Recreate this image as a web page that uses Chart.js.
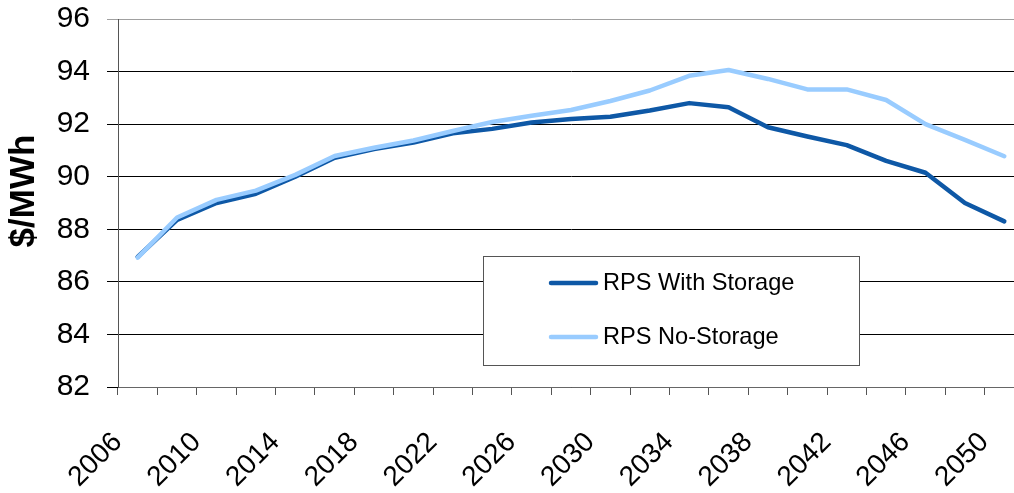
<!DOCTYPE html>
<html><head><meta charset="utf-8">
<script src="https://cdn.jsdelivr.net/npm/chart.js@4/dist/chart.umd.min.js"></script>
<style>
html,body{margin:0;padding:0;background:#fff;overflow:hidden;width:1014px;height:493px}
#wrap{position:relative;width:1040px;height:493px}
</style>
</head><body><div id="wrap"><canvas id="c" width="1040" height="493"></canvas></div>
<script>
const years = [2006,2008,2010,2012,2014,2016,2018,2020,2022,2024,2026,2028,2030,2032,2034,2036,2038,2040,2042,2044,2046,2048,2050];
const withStorage = [86.95,88.36,89.0,89.35,90.0,90.72,91.05,91.3,91.65,91.82,92.06,92.2,92.28,92.52,92.8,92.64,91.88,91.53,91.2,90.6,90.15,89.0,88.3];
const noStorage   = [86.92,88.45,89.12,89.47,90.07,90.79,91.1,91.38,91.74,92.08,92.32,92.54,92.88,93.28,93.84,94.06,93.72,93.32,93.32,92.92,92.0,91.4,90.78];
const yMin = 82, yMax = 96, yStep = 2;
const seriesNames = ['RPS With Storage','RPS No-Storage'];
const seriesColors = ['#0E58A6','#99CCFF'];
const yTitle = '$/MWh';
const FONT = "'Liberation Sans', Arial, sans-serif";

const extras = {
  id:'extras',
  afterDraw(chart){
    const c = chart.ctx;
    c.save();
    c.translate(24,191);
    c.rotate(-Math.PI/2);
    c.fillStyle='#000';
    c.font='bold 35px '+FONT;
    c.textAlign='center';
    c.textBaseline='middle';
    c.fillText(yTitle,0,0);
    c.restore();

    c.save();
    const bx=483, by=256, bw=376, bh=109;
    c.fillStyle='#fff';
    c.fillRect(bx,by,bw,bh);
    c.strokeStyle='#555';
    c.lineWidth=1;
    c.strokeRect(bx+0.5,by+0.5,bw,bh);
    const rows=[283,337];
    chart.data.datasets.forEach((ds,i)=>{
      const y=rows[i];
      c.strokeStyle=ds.borderColor;
      c.lineWidth=4.5;
      c.lineCap='round';
      c.beginPath(); c.moveTo(551,y); c.lineTo(596,y); c.stroke();
      c.fillStyle='#000';
      c.font='23.6px '+FONT;
      c.textBaseline='middle';
      c.textAlign='left';
      c.fillText(ds.label,603,y);
    });
    c.restore();
  }
};

new Chart(document.getElementById('c'),{
  type:'line',
  data:{
    labels: years.map(String),
    datasets:[
      {label:seriesNames[0], data:withStorage, borderColor:seriesColors[0], backgroundColor:seriesColors[0], borderWidth:4.5, pointRadius:0, tension:0, order:1, borderCapStyle:'round', borderJoinStyle:'round', fill:false},
      {label:seriesNames[1], data:noStorage, borderColor:seriesColors[1], backgroundColor:seriesColors[1], borderWidth:4.5, pointRadius:0, tension:0, order:0, borderCapStyle:'round', borderJoinStyle:'round', fill:false}
    ]
  },
  options:{
    responsive:false,
    devicePixelRatio:1,
    animation:false,
    layout:{padding:{top:19,right:16,left:0,bottom:0}},
    plugins:{legend:{display:false},tooltip:{enabled:false}},
    scales:{
      x:{
        type:'category',
        offset:true,
        grid:{offset:true, drawOnChartArea:false, drawTicks:true, tickLength:8, color:'#555', lineWidth:1},
        border:{color:'#666', width:1},
        ticks:{autoSkip:false, maxRotation:45, minRotation:45, color:'#000', font:{family:FONT,size:28}, padding:31, labelOffset:-20,
          callback:(v,i)=> (i%2===0 ? String(years[i]) : '')},
        afterFit:(s)=>{s.height=106; s.paddingLeft=0; s.paddingRight=0;}
      },
      y:{
        min:yMin, max:yMax,
        ticks:{stepSize:yStep, color:'#000', font:{family:FONT,size:30}, padding:17},
        grid:{color:(ctx)=> (ctx.tick && ctx.tick.value===yMax ? '#a0a0a0' : '#000'), tickLength:11, lineWidth:1},
        border:{color:'#555', width:1},
        title:{display:false},
        afterFit:(s)=>{s.width=118; s.paddingTop=0; s.paddingBottom=0;}
      }
    }
  },
  plugins:[extras]
});
</script>
</body></html>
